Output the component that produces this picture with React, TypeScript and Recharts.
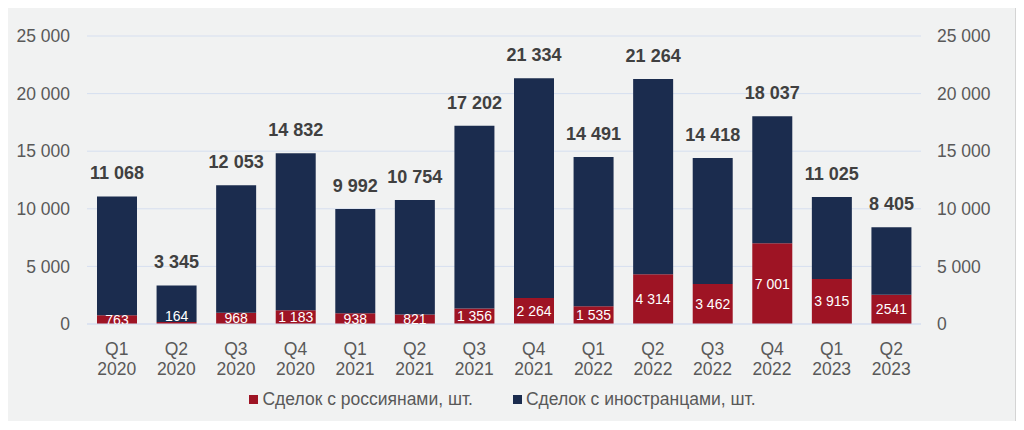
import { ComposedChart, Bar, Line, XAxis, YAxis, CartesianGrid, Legend, LabelList } from 'recharts';

const quarters = ['Q1', 'Q2', 'Q3', 'Q4', 'Q1', 'Q2', 'Q3', 'Q4', 'Q1', 'Q2', 'Q3', 'Q4', 'Q1', 'Q2'];
const years = ['2020', '2020', '2020', '2020', '2021', '2021', '2021', '2021', '2022', '2022', '2022', '2022', '2023', '2023'];
const russians = [763, 164, 968, 1183, 938, 821, 1356, 2264, 1535, 4314, 3462, 7001, 3915, 2541];
const foreigners = [10305, 3181, 11085, 13649, 9054, 9933, 15846, 19070, 12956, 16950, 10956, 11036, 7110, 5864];
const totals = [11068, 3345, 12053, 14832, 9992, 10754, 17202, 21334, 14491, 21264, 14418, 18037, 11025, 8405];
const russianLabels = ['763', '164', '968', '1 183', '938', '821', '1 356', '2 264', '1 535', '4 314', '3 462', '7 001', '3 915', '2541'];
const yTicks = [0, 5000, 10000, 15000, 20000, 25000];

const data = quarters.map((q, i) => ({
  name: `${q} ${years[i]}`,
  q,
  year: years[i],
  ru: russians[i],
  fo: foreigners[i],
  total: totals[i],
  ruLabel: russianLabels[i],
}));

const RED = '#9e1424';
const NAVY = '#1b2c4e';
const GRAY = '#595959';
const FONT = 'Arial, "Liberation Sans", sans-serif';

const fmt = (v: number) => String(v).replace(/\B(?=(\d{3})+(?!\d))/g, ' ');

const CategoryTick = (props: any) => {
  const { x, y, index } = props;
  const d = data[index];
  return (
    <g>
      <text x={x} y={y + 23} textAnchor="middle" fill={GRAY} fontSize={17.5} fontFamily={FONT}>
        {d.q}
      </text>
      <text x={x} y={y + 43} textAnchor="middle" fill={GRAY} fontSize={17.5} fontFamily={FONT}>
        {d.year}
      </text>
    </g>
  );
};

const RuLabel = (props: any) => {
  const { x, y, width, height, value, index } = props;
  const bottom = y + height;
  const cy = height < 5 ? bottom - 8 : y + height / 2;
  const id = `ruclip${index}`;
  return (
    <g>
      <clipPath id={id}>
        <rect x={x - 10} y={0} width={width + 20} height={bottom} />
      </clipPath>
      <text
        x={x + width / 2}
        y={cy}
        dy={5}
        textAnchor="middle"
        fill="#ffffff"
        fontSize={14}
        fontFamily={FONT}
        clipPath={`url(#${id})`}
      >
        {value}
      </text>
    </g>
  );
};

const TotalLabel = (props: any) => {
  const { x, y, width, value } = props;
  return (
    <text
      x={x + width / 2}
      y={y - 17}
      textAnchor="middle"
      fill="#404040"
      fontSize={18}
      fontWeight="bold"
      fontFamily={FONT}
    >
      {fmt(value)}
    </text>
  );
};

const LegendContent = () => (
  <div
    style={{
      display: 'flex',
      justifyContent: 'center',
      gap: 40,
      fontFamily: FONT,
      fontSize: 17.5,
      color: GRAY,
      height: 20,
      lineHeight: '20px',
      paddingRight: 8,
    }}
  >
    <span style={{ display: 'flex', alignItems: 'center' }}>
      <span style={{ width: 9, height: 9, background: RED, marginRight: 4 }} />
      Сделок с россиянами, шт.
    </span>
    <span style={{ display: 'flex', alignItems: 'center' }}>
      <span style={{ width: 9, height: 9, background: NAVY, marginRight: 4 }} />
      Сделок с иностранцами, шт.
    </span>
  </div>
);

export default function App() {
  return (
    <div
      style={{
        width: 1007,
        height: 413,
        background: '#f1f2f2',
        boxShadow: '0 0 0 1px #d4d4d4, 2px 2px 4px rgba(0,0,0,0.2)',
      }}
    >
      <ComposedChart
        width={1007}
        height={413}
        data={data}
        margin={{ top: 28, right: 20, left: 10, bottom: 12 }}
        barSize={40}
      >
        <CartesianGrid yAxisId="left" vertical={false} stroke="#d6dff0" />
        <XAxis
          dataKey="name"
          axisLine={{ stroke: '#d6dff0' }}
          tickLine={false}
          interval={0}
          height={65}
          tick={<CategoryTick />}
        />
        <YAxis
          yAxisId="left"
          domain={[0, 25000]}
          ticks={yTicks}
          axisLine={false}
          tickLine={false}
          tickSize={0}
          tickMargin={17}
          width={69}
          tickFormatter={fmt}
          tick={{ fill: GRAY, fontSize: 17.5, fontFamily: FONT }}
        />
        <YAxis
          yAxisId="right"
          orientation="right"
          domain={[0, 25000]}
          ticks={yTicks}
          axisLine={false}
          tickLine={false}
          tickSize={0}
          tickMargin={16}
          width={74}
          tickFormatter={fmt}
          tick={{ fill: GRAY, fontSize: 17.5, fontFamily: FONT, textAnchor: 'start' }}
        />
        <Legend verticalAlign="bottom" content={<LegendContent />} />
        <Bar yAxisId="left" dataKey="ru" stackId="a" fill={RED} isAnimationActive={false}>
          <LabelList dataKey="ruLabel" content={<RuLabel />} />
        </Bar>
        <Bar yAxisId="left" dataKey="fo" stackId="a" fill={NAVY} isAnimationActive={false}>
          <LabelList dataKey="total" content={<TotalLabel />} />
        </Bar>
        <Line
          yAxisId="right"
          dataKey="total"
          stroke="none"
          dot={false}
          activeDot={false}
          legendType="none"
          isAnimationActive={false}
        />
      </ComposedChart>
    </div>
  );
}
